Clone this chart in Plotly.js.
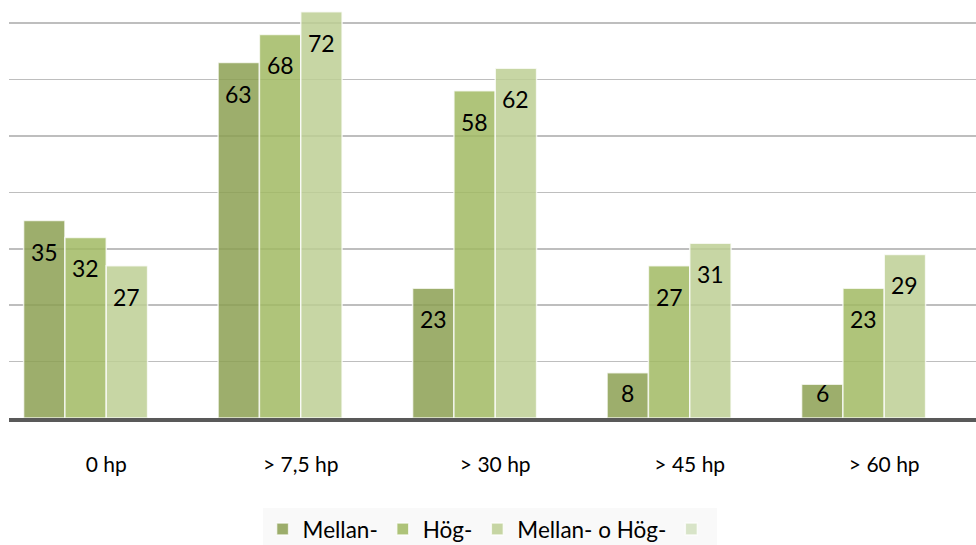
<!DOCTYPE html>
<html>
<head>
<meta charset="utf-8">
<script src="https://cdn.plot.ly/plotly-3.0.1.min.js"></script>
<style>html,body{margin:0;padding:0;background:#fff;overflow:hidden;}#chart{width:976px;height:545px;}</style>
</head>
<body>
<div id="chart"></div>
<script>
const categories = ['0 hp', '> 7,5 hp', '> 30 hp', '> 45 hp', '> 60 hp'];
const seriesNames = ['Mellan-', 'Hög-', 'Mellan- o Hög-', ''];
const mellan = [35, 63, 23, 8, 6];
const hog = [32, 68, 58, 27, 23];
const mellanOHog = [27, 72, 62, 31, 29];
const fourth = [null, null, null, null, null];
const seriesValues = [mellan, hog, mellanOHog, fourth];
const colors = ['rgba(140,160,82,0.85)', 'rgba(161,186,99,0.85)', 'rgba(189,207,148,0.85)', 'rgba(208,222,188,0.8)'];

const bargap = 0.15;
const nSeries = seriesValues.length;
const traces = seriesValues.map((vals, s) => ({
  type: 'bar',
  x: categories,
  y: vals,
  name: seriesNames[s],
  marker: {color: colors[s], line: {color: 'rgba(255,255,255,0.75)', width: 1.5}},
  showlegend: true,
  hoverinfo: 'skip'
}));

const yMax = 74.1;
const pxPerUnit = 418 / yMax;
const annotations = [];
seriesValues.forEach((vals, s) => {
  vals.forEach((v, i) => {
    if (v === null) return;
    const off = (s - (nSeries - 1) / 2) * (1 - bargap) / nSeries;
    const yc = Math.max(v - 31 / pxPerUnit, 25 / pxPerUnit);
    annotations.push({
      x: i + off, y: yc, xref: 'x', yref: 'y',
      text: String(v), showarrow: false, yanchor: 'middle', xanchor: 'center',
      font: {family: 'Lato, sans-serif', size: 23, color: '#000'}
    });
  });
});

const layout = {
  width: 976, height: 545,
  margin: {l: 9, r: 0, t: 0, b: 127, autoexpand: false},
  paper_bgcolor: '#ffffff', plot_bgcolor: '#ffffff',
  barmode: 'group', bargap: bargap, bargroupgap: 0,
  showlegend: true,
  legend: {
    orientation: 'h', x: 0.497, xanchor: 'center', xref: 'paper',
    y: -0.215, yanchor: 'top', bgcolor: '#F9F9F9',
    font: {family: 'Lato, sans-serif', size: 22.5, color: '#000'},
    itemclick: false, itemdoubleclick: false
  },
  xaxis: {
    type: 'category', range: [-0.5, -0.5 + 967 / 194.5],
    showline: true, linecolor: '#595959', linewidth: 4, automargin: false,
    showgrid: false, ticks: '', ticklabelstandoff: 25,
    tickfont: {family: 'Lato, sans-serif', size: 21, color: '#000'},
    fixedrange: true
  },
  yaxis: {
    range: [0, yMax], dtick: 10, showticklabels: false, automargin: false,
    showgrid: true, gridcolor: '#BEBEBE', gridwidth: 1.5,
    zeroline: false, showline: false, ticks: '', fixedrange: true
  },
  annotations: annotations,
  hovermode: false
};

Plotly.newPlot('chart', traces, layout, {displayModeBar: false, staticPlot: true});
</script>
</body>
</html>
